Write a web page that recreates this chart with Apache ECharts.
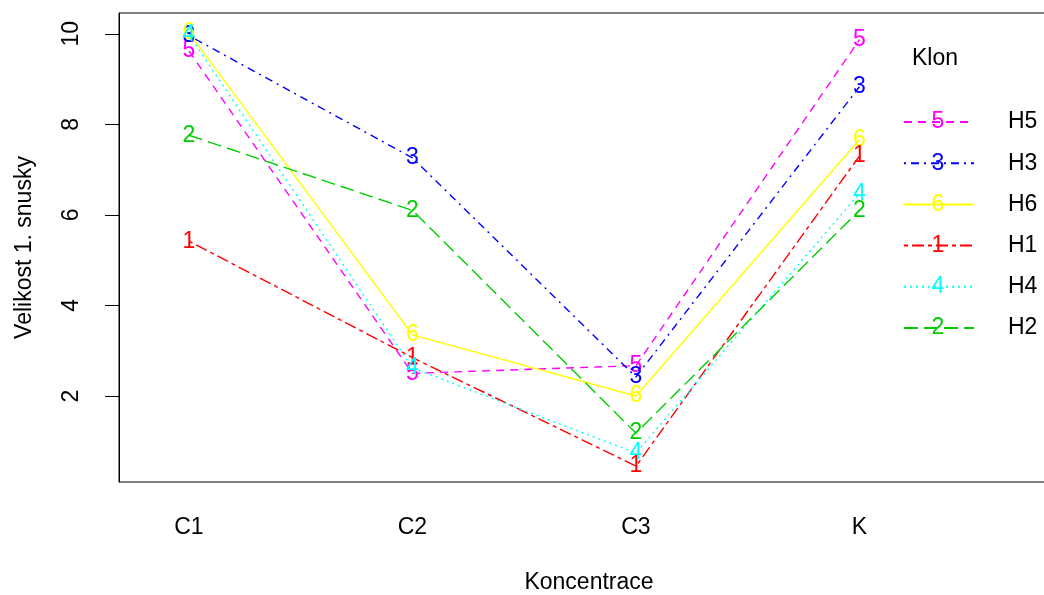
<!DOCTYPE html>
<html>
<head>
<meta charset="utf-8">
<script src="https://cdn.jsdelivr.net/npm/echarts@6/dist/echarts.min.js"></script>
<style>
  html, body { margin: 0; padding: 0; background: #fff; }
  #chart { width: 1044px; height: 595px; }
</style>
</head>
<body>
<div id="chart"></div>
<script>
// koncentrace na ose x
const categories = ['C1', 'C2', 'C3', 'K']
const yTicks = [2, 4, 6, 8, 10]

// klony v poradi legendy
const klonNames = ['H5', 'H3', 'H6', 'H1', 'H4', 'H2']
const klonMarks = ['5', '3', '6', '1', '4', '2']
const klonColors = ['#ff00ff', '#0000ff', '#ffff00', '#ff0000', '#00ffff', '#00cd00']
const klonDash = [[8, 6], [2, 5, 8, 5], 'solid', [4, 4, 12, 4], [2, 4], [14, 6]]

// prumerne hodnoty (C1, C2, C3, K)
const h5 = [9.62, 2.50, 2.67, 9.87]
const h3 = [9.96, 7.26, 2.42, 8.83]
const h6 = [10.02, 3.35, 2.00, 7.66]
const h1 = [5.42, 2.85, 0.45, 7.30]
const h4 = [9.98, 2.62, 0.74, 6.47]
const h2 = [7.76, 6.10, 1.18, 6.10]
const klonValues = [h5, h3, h6, h1, h4, h2]

const font = '"Liberation Sans", Arial, sans-serif'
const fs = 23

let chart = echarts.init(document.getElementById('chart'))

// legenda - rozlozeni
const legLeft = 903
const legTop = 110
const legItemH = 24
const legGap = 17.2
const legIconW = 70

let series = klonNames.map((name, k) => ({
    name: name,
    type: 'line',
    data: klonValues[k].map((v, i) => [i + 1, v]),
    symbol: 'circle',
    symbolSize: 1,
    itemStyle: { color: 'rgba(0,0,0,0)' },
    lineStyle: { color: klonColors[k], width: 1.4, type: klonDash[k] },
    label: {
        show: true,
        position: 'inside',
        formatter: klonMarks[k],
        color: klonColors[k],
        fontFamily: font,
        fontSize: fs,
    },
    emphasis: { disabled: true },
    silent: true,
    z: 3,
}))

let graphic = [{
    type: 'text',
    left: 912,
    top: 47,
    style: { text: 'Klon', font: fs + 'px ' + font, fill: '#000' },
}]
klonMarks.forEach((m, k) => {
    graphic.push({
        type: 'text',
        x: legLeft + legIconW / 2,
        y: legTop + legItemH / 2 + k * (legItemH + legGap),
        style: {
            text: m, font: fs + 'px ' + font, fill: klonColors[k],
            align: 'center', verticalAlign: 'middle',
        },
    })
})

chart.setOption({
    animation: false,
    backgroundColor: '#fff',
    textStyle: { fontFamily: font },
    grid: {
        left: 119, top: 13, width: 940, height: 469,
        outerBoundsMode: 'none',
        containLabel: false,
        show: true, borderColor: '#000', borderWidth: 1,
    },
    xAxis: {
        type: 'value',
        min: 0.687,
        max: 4.893,
        name: 'Koncentrace',
        nameLocation: 'middle',
        nameGap: 89,
        nameTextStyle: { color: '#000', fontSize: fs, fontFamily: font },
        axisLine: { show: false },
        axisTick: { show: false },
        splitLine: { show: false },
        axisLabel: {
            customValues: categories.map((c, i) => i + 1),
            formatter: (v) => categories[Math.round(v) - 1],
            color: '#000',
            fontSize: fs,
            fontFamily: font,
            margin: 34,
        },
    },
    yAxis: {
        type: 'value',
        min: 0.1,
        max: 10.46,
        name: 'Velikost 1. snusky',
        nameLocation: 'middle',
        nameGap: 83,
        nameRotate: 90,
        nameTextStyle: { color: '#000', fontSize: fs, fontFamily: font },
        axisLine: { show: true, lineStyle: { color: '#000', width: 1 } },
        axisTick: {
            show: true, inside: false, length: 14,
            customValues: yTicks,
            lineStyle: { color: '#000', width: 1 },
        },
        splitLine: { show: false },
        axisLabel: {
            customValues: yTicks,
            rotate: 90,
            color: '#000',
            fontSize: fs,
            fontFamily: font,
            margin: 36,
        },
    },
    legend: {
        orient: 'vertical',
        left: legLeft,
        top: legTop,
        padding: 0,
        itemWidth: legIconW,
        itemHeight: legItemH,
        itemGap: legGap,
        data: klonNames,
        selectedMode: false,
        textStyle: {
            color: '#000', fontSize: fs, fontFamily: font,
            lineHeight: legItemH, padding: [0, 0, 0, 29],
        },
    },
    graphic: graphic,
    series: series,
})
</script>
</body>
</html>
